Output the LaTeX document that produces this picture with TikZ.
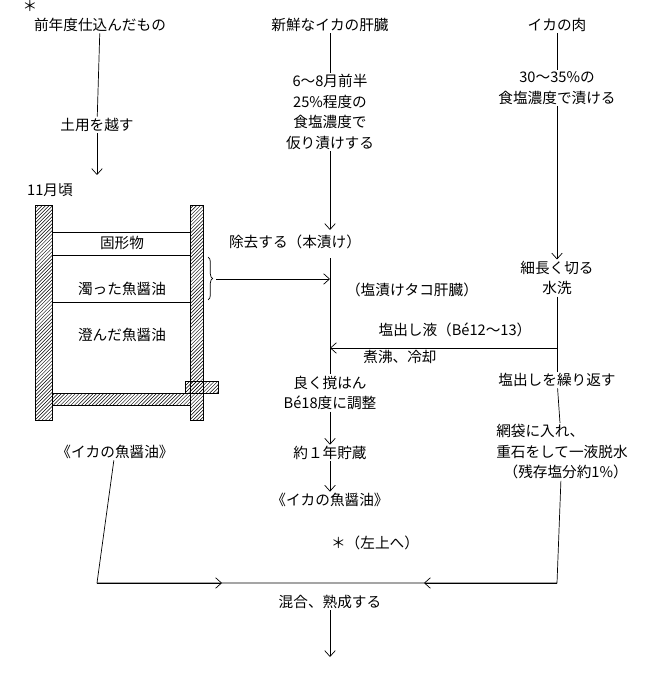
\documentclass[tikz,border=0pt]{standalone}
\usepackage{fontspec}
\setmainfont{Noto Sans CJK JP}
\usetikzlibrary{arrows.meta}
\usetikzlibrary{patterns}
\usetikzlibrary{decorations.pathreplacing}
\tikzset{stage/.style={inner sep=1pt,align=center,font=\fontsize{12.5}{17.5}\selectfont}}
\tikzset{wall/.style={draw,pattern=north east lines}}
\begin{document}
\begin{tikzpicture}[x=0.03cm,y=-0.03cm,>={Straight Barb[length=5pt,width=9pt]},semithick]
  \useasboundingbox (0,0) rectangle (668,680);
  % Left column: last year's batch
  \node (star)  [stage] at (30,6) {＊};
  \node (prev)  [stage] at (100,25) {前年度仕込んだもの};
  \node (doyo)  [stage] at (97,125) {土用を越す};
  \node (nov)   [stage] at (50,190) {11月頃};
  \coordinate (novtop) at (97,175);
  % Middle column: liver
  \node (liver) [stage] at (330,25) {新鮮なイカの肝臓};
  \node (kari)  [stage] at (330,112) {6～8月前半\\25\%程度の\\食塩濃度で\\仮り漬けする};
  \node (hon)   [stage] at (295,242) {除去する（本漬け）};
  \node (tako)  [stage] at (412,290) {（塩漬けタコ肝臓）};
  \node (mix)   [stage] at (330,393) {良く撹はん\\Bé18度に調整};
  \node (store) [stage] at (330,453) {約１年貯蔵};
  \node (sauce) [stage] at (330,500) {《イカの魚醤油》};
  \node (back)  [stage] at (375,543) {＊（左上へ）};
  \node (age)   [stage] at (330,602) {混合、熟成する};
  % Right column: meat
  \node (meat)  [stage] at (557,25) {イカの肉};
  \node (salt)  [stage] at (557,88) {30～35\%の\\食塩濃度で漬ける};
  \node (cut)   [stage] at (557,278) {細長く切る\\水洗};
  \node (rep)   [stage] at (557,380) {塩出しを繰り返す};
  \node (net)   [stage,align=left] at (562,452) {網袋に入れ、\\重石をして一液脱水\\\hspace*{0.5em}（残存塩分約1\%）};
  \node (liq)   [stage] at (455,330) {塩出し液（Bé12～13）};
  \node (boil)  [stage] at (400,357) {煮沸、冷却};

  % Tank
  \draw[wall] (35,205) rectangle (52,420);
  \draw[wall] (190,205) rectangle (203,420);
  \draw[wall] (52,393) rectangle (190,405);
  \draw[pattern=north east lines,pattern color=black] (185,381) rectangle (218,393);
  \draw (52,232) -- (190,232) (52,255) -- (190,255) (52,302) -- (190,302);
  \node (solid)  [stage] at (122,243) {固形物};
  \node (turbid) [stage] at (122,289) {濁った魚醤油};
  \node (clear)  [stage] at (122,335) {澄んだ魚醤油};
  \node (ltank)  [stage] at (115,452) {《イカの魚醤油》};
  \draw[decorate,decoration={brace,amplitude=4pt}] (208,257) -- (208,300);
  \coordinate (brace) at (216,279);
  \coordinate (join)  at (330,279);
  \coordinate (bl) at (97,583);
  \coordinate (br) at (557,583);
  \coordinate (end) at (330,657);
  \coordinate (split) at (557,348);
  \coordinate (merge) at (330,348);

  % Connectors
  \draw (prev) -- (doyo);
  \draw[->] (doyo) -- (novtop);
  \draw (liver) -- (kari);
  \draw[->] (kari) -- (330,230);
  \draw (330,258) -- (mix);
  \draw[->] (brace) -- (join);
  \draw[->] (split) -- (merge);
  \draw[->] (mix) -- (store);
  \draw[->] (store) -- (sauce);
  \draw (meat) -- (salt);
  \draw[->] (salt) -- (cut);
  \draw (cut) -- (rep);
  \draw (rep) -- (net);
  \draw (ltank) -- (bl) -- (br) -- (net);
  \draw[->] (bl) -- (222,583);
  \draw[->] (br) -- (424,583);
  \draw[->] (age) -- (end);
\end{tikzpicture}
\end{document}
